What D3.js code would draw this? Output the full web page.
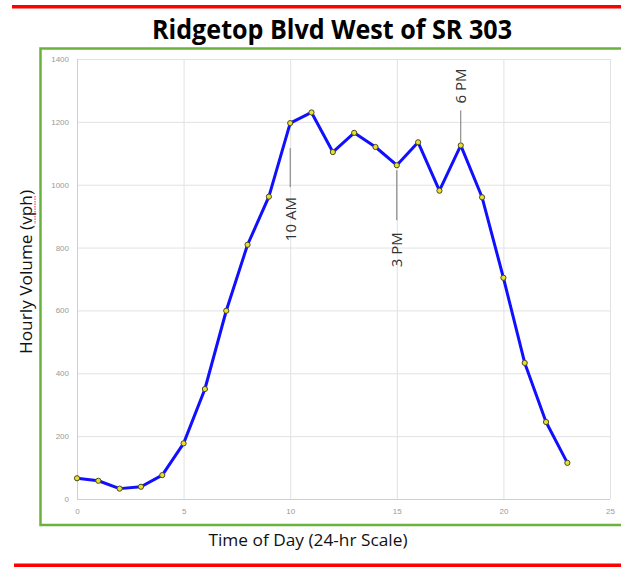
<!DOCTYPE html>
<html>
<head>
<meta charset="utf-8">
<script src="https://cdn.jsdelivr.net/npm/d3@7"></script>
<style>
  body { margin: 0; background: #fff; }
  svg { display: block; }
</style>
</head>
<body>
<div id="chart"></div>
<script>
// Hourly volumes (hour 0..23)
const hours = d3.range(0, 24);
const volumes = [66, 58, 33, 39, 76, 177, 350, 599, 809, 962, 1196, 1230,
  1104, 1165, 1120, 1062, 1135, 981, 1125, 960, 704, 433, 245, 115];
const yTicks = [0, 200, 400, 600, 800, 1000, 1200, 1400];
const xTicks = [0, 5, 10, 15, 20, 25];
// peak-hour callouts
const calloutHours = [10, 15, 18];
const calloutLabels = ["10 AM", "3 PM", "6 PM"];
// leader/label offsets from the point, px (line start, line end, label far end)
const calloutLayout = [
  { l1: 25, l2: 64, t: 74, below: true },
  { l1: 5, l2: 55, t: 67, below: true },
  { l1: -3, l2: -35, t: -42, below: false }
];

const W = 621, H = 567;
const svg = d3.select("#chart").append("svg").attr("width", W).attr("height", H);

// red rules top and bottom
svg.append("rect").attr("x", 12).attr("y", 5).attr("width", W).attr("height", 3.5).attr("fill", "#ff0000");
svg.append("rect").attr("x", 14).attr("y", 563.5).attr("width", W).attr("height", 3.5).attr("fill", "#ff0000");

// title
svg.append("text")
  .attr("x", 332).attr("y", 39)
  .attr("text-anchor", "middle")
  .attr("font-family", "'Open Sans', sans-serif")
  .attr("font-weight", "bold")
  .attr("font-size", 26)
  .attr("textLength", 360)
  .attr("lengthAdjust", "spacingAndGlyphs")
  .attr("fill", "#000")
  .text("Ridgetop Blvd West of SR 303");

// green frame around the chart
svg.append("rect")
  .attr("x", 40.5).attr("y", 48.5).attr("width", 600).attr("height", 476.5)
  .attr("fill", "none").attr("stroke", "#6ab23e").attr("stroke-width", 2.5);

const x = d3.scaleLinear().domain([0, 25]).range([77, 610]);
const y = d3.scaleLinear().domain([0, 1400]).range([499, 59]);

// grid
svg.append("g").selectAll("line").data(yTicks).join("line")
  .attr("x1", x(0)).attr("x2", x(25))
  .attr("y1", d => y(d) + 0.5).attr("y2", d => y(d) + 0.5)
  .attr("stroke", "#e2e2e2").attr("stroke-width", 1);
svg.append("g").selectAll("line").data(xTicks).join("line")
  .attr("y1", y(0)).attr("y2", y(1400))
  .attr("x1", d => x(d) + 0.5).attr("x2", d => x(d) + 0.5)
  .attr("stroke", "#e2e2e2").attr("stroke-width", 1);
// darker base axes
svg.append("line").attr("x1", x(0) + 0.5).attr("x2", x(0) + 0.5).attr("y1", y(0)).attr("y2", y(1400))
  .attr("stroke", "#cfcfcf");
svg.append("line").attr("x1", x(0)).attr("x2", x(25)).attr("y1", y(0) + 0.5).attr("y2", y(0) + 0.5)
  .attr("stroke", "#cfcfcf");

// tick labels
const yAxis = svg.append("g")
  .attr("transform", `translate(${x(0) - 8},0)`)
  .call(d3.axisLeft(y).tickValues(yTicks).tickFormat(d3.format("d")).tickSize(0).tickPadding(0));
yAxis.select(".domain").remove();
yAxis.selectAll("text").attr("font-family", "'Liberation Sans', sans-serif").attr("font-size", 8).attr("fill", "#9a9a9a");

const xAxis = svg.append("g")
  .attr("transform", `translate(0,${y(0) + 9})`)
  .call(d3.axisBottom(x).tickValues(xTicks).tickFormat(d3.format("d")).tickSize(0).tickPadding(0));
xAxis.select(".domain").remove();
xAxis.selectAll("text").attr("font-family", "'Liberation Sans', sans-serif").attr("font-size", 8).attr("fill", "#9a9a9a");

// axis titles
svg.append("text")
  .attr("transform", "translate(32,272) rotate(-90)")
  .attr("text-anchor", "middle")
  .attr("font-family", "'Open Sans', sans-serif")
  .attr("font-size", 17)
  .attr("textLength", 164)
  .attr("lengthAdjust", "spacingAndGlyphs")
  .attr("fill", "#111")
  .text("Hourly Volume (vph)");
// spell-check squiggle under "vph"
svg.append("line")
  .attr("x1", 35).attr("x2", 35).attr("y1", 196).attr("y2", 224)
  .attr("stroke", "#e03030").attr("stroke-width", 1).attr("stroke-dasharray", "1.5,1");
svg.append("text")
  .attr("x", 308).attr("y", 546)
  .attr("text-anchor", "middle")
  .attr("font-family", "'Open Sans', sans-serif")
  .attr("font-size", 17)
  .attr("textLength", 199)
  .attr("lengthAdjust", "spacingAndGlyphs")
  .attr("fill", "#111")
  .text("Time of Day (24-hr Scale)");

// callouts
const co = svg.append("g");
calloutHours.forEach((h, i) => {
  const px = x(h), py = y(volumes[h]);
  const L = calloutLayout[i];
  co.append("line").attr("x1", px).attr("x2", px).attr("y1", py + L.l1).attr("y2", py + L.l2)
    .attr("stroke", "#777").attr("stroke-width", 1);
  co.append("text")
    .attr("transform", `translate(${px + 5.5},${py + L.t}) rotate(-90)`)
    .attr("text-anchor", L.below ? "end" : "start")
    .attr("font-family", "'Open Sans', sans-serif").attr("font-size", 15).attr("fill", "#333")
    .text(calloutLabels[i]);
});

// series line and markers
const line = d3.line().x((d, i) => x(hours[i])).y(d => y(d));
svg.append("path").datum(volumes)
  .attr("fill", "none").attr("stroke", "#1010ff").attr("stroke-width", 3)
  .attr("stroke-linejoin", "round")
  .attr("d", line);
svg.append("g").selectAll("circle").data(volumes).join("circle")
  .attr("cx", (d, i) => x(hours[i])).attr("cy", d => y(d)).attr("r", 2.6)
  .attr("fill", "#e8e030").attr("stroke", "#4a4a20").attr("stroke-width", 1);
</script>
</body>
</html>
